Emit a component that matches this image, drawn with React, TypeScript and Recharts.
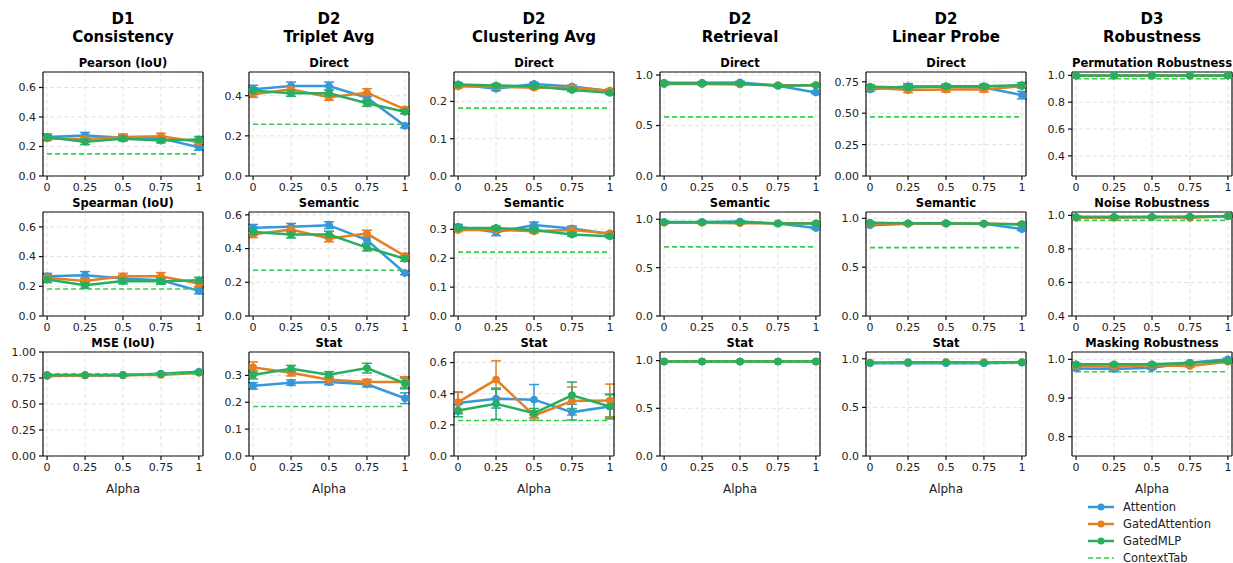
import React from 'react';
import { LineChart, Line, XAxis, YAxis, CartesianGrid, ErrorBar, ReferenceLine } from 'recharts';

const ALPHAS = [0, 0.25, 0.5, 0.75, 1];
const ALPHA_LABELS = ['0', '0.25', '0.5', '0.75', '1'];
const SERIES_NAMES = ['Attention', 'GatedAttention', 'GatedMLP'];
const BASELINE_NAME = 'ContextTab';
const COLUMN_GROUPS = ['D1', 'D2', 'D2', 'D2', 'D2', 'D3'];
const COLUMN_NAMES = ['Consistency', 'Triplet Avg', 'Clustering Avg', 'Retrieval', 'Linear Probe', 'Robustness'];

// values per panel: [Attention, GatedAttention, GatedMLP]
// D1 Consistency
const pearsonVals = [[0.265, 0.275, 0.26, 0.255, 0.195], [0.255, 0.25, 0.265, 0.27, 0.23], [0.262, 0.233, 0.253, 0.24, 0.248]];
const pearsonErr = [[0.02, 0.02, 0.015, 0.015, 0.02], [0.015, 0.02, 0.02, 0.02, 0.02], [0.015, 0.02, 0.015, 0.015, 0.02]];
const pearsonCtx = 0.15;
const spearmanVals = [[0.267, 0.274, 0.252, 0.24, 0.169], [0.258, 0.236, 0.267, 0.267, 0.218], [0.245, 0.207, 0.236, 0.234, 0.24]];
const spearmanErr = [[0.02, 0.025, 0.02, 0.02, 0.02], [0.02, 0.02, 0.02, 0.025, 0.02], [0.02, 0.02, 0.02, 0.02, 0.02]];
const spearmanCtx = 0.182;
const mseVals = [[0.77, 0.775, 0.775, 0.79, 0.81], [0.775, 0.775, 0.78, 0.78, 0.8], [0.78, 0.78, 0.78, 0.79, 0.805]];
const mseErr = [[0.005, 0.005, 0.005, 0.005, 0.005], [0.005, 0.005, 0.005, 0.005, 0.005], [0.005, 0.005, 0.005, 0.005, 0.005]];
const mseCtx = 0.79;

// D2 Triplet Avg
const tripletDirectVals = [[0.432, 0.448, 0.448, 0.39, 0.25], [0.407, 0.432, 0.392, 0.415, 0.332], [0.425, 0.412, 0.412, 0.362, 0.32]];
const tripletDirectErr = [[0.02, 0.02, 0.02, 0.02, 0.01], [0.015, 0.015, 0.015, 0.02, 0.01], [0.015, 0.015, 0.015, 0.015, 0.01]];
const tripletDirectCtx = 0.258;
const tripletSemanticVals = [[0.523, 0.529, 0.539, 0.45, 0.255], [0.485, 0.513, 0.46, 0.489, 0.356], [0.499, 0.483, 0.483, 0.406, 0.34]];
const tripletSemanticErr = [[0.02, 0.02, 0.02, 0.02, 0.01], [0.02, 0.02, 0.02, 0.02, 0.015], [0.02, 0.02, 0.02, 0.02, 0.015]];
const tripletSemanticCtx = 0.271;
const tripletStatVals = [[0.261, 0.273, 0.275, 0.267, 0.215], [0.33, 0.31, 0.284, 0.275, 0.275], [0.302, 0.325, 0.302, 0.327, 0.27]];
const tripletStatErr = [[0.012, 0.01, 0.01, 0.01, 0.02], [0.02, 0.012, 0.01, 0.01, 0.02], [0.015, 0.012, 0.012, 0.018, 0.02]];
const tripletStatCtx = 0.184;

// D2 Clustering Avg
const clusterDirectVals = [[0.2455, 0.234, 0.247, 0.24, 0.228], [0.24, 0.24, 0.237, 0.237, 0.229], [0.2455, 0.243, 0.241, 0.231, 0.223]];
const clusterDirectErr = [[0.004, 0.005, 0.004, 0.004, 0.004], [0.004, 0.004, 0.004, 0.004, 0.004], [0.004, 0.004, 0.004, 0.004, 0.004]];
const clusterDirectCtx = 0.182;
const clusterSemanticVals = [[0.309, 0.29, 0.315, 0.303, 0.284], [0.298, 0.298, 0.293, 0.298, 0.286], [0.305, 0.305, 0.298, 0.282, 0.276]];
const clusterSemanticErr = [[0.008, 0.012, 0.01, 0.008, 0.005], [0.006, 0.006, 0.006, 0.008, 0.005], [0.006, 0.006, 0.006, 0.006, 0.005]];
const clusterSemanticCtx = 0.221;
const clusterStatVals = [[0.34, 0.368, 0.362, 0.282, 0.318], [0.346, 0.491, 0.26, 0.353, 0.357], [0.292, 0.336, 0.275, 0.39, 0.318]];
const clusterStatErr = [[0.07, 0.06, 0.097, 0.05, 0.08], [0.065, 0.12, 0.03, 0.09, 0.105], [0.04, 0.1, 0.03, 0.085, 0.075]];
const clusterStatCtx = 0.228;

// D2 Retrieval
const retrievalDirectVals = [[0.924, 0.924, 0.927, 0.894, 0.828], [0.91, 0.91, 0.907, 0.9, 0.9], [0.917, 0.917, 0.917, 0.894, 0.9]];
const retrievalDirectErr = [[0.01, 0.01, 0.01, 0.01, 0.012], [0.01, 0.01, 0.01, 0.01, 0.01], [0.01, 0.01, 0.01, 0.01, 0.01]];
const retrievalDirectCtx = 0.586;
const retrievalSemanticVals = [[0.972, 0.972, 0.976, 0.955, 0.91], [0.965, 0.965, 0.96, 0.958, 0.958], [0.968, 0.968, 0.97, 0.955, 0.955]];
const retrievalSemanticErr = [[0.01, 0.01, 0.01, 0.01, 0.012], [0.01, 0.01, 0.01, 0.01, 0.01], [0.01, 0.01, 0.01, 0.01, 0.01]];
const retrievalSemanticCtx = 0.715;
const retrievalStatVals = [[0.99, 0.99, 0.99, 0.99, 0.99], [0.99, 0.99, 0.99, 0.99, 0.99], [0.99, 0.99, 0.99, 0.99, 0.99]];
const retrievalStatErr = [[0.003, 0.003, 0.003, 0.003, 0.003], [0.003, 0.003, 0.003, 0.003, 0.003], [0.003, 0.003, 0.003, 0.003, 0.003]];
const retrievalStatCtx = 0.99;

// D2 Linear Probe
const probeDirectVals = [[0.689, 0.715, 0.71, 0.705, 0.644], [0.705, 0.684, 0.689, 0.689, 0.715], [0.71, 0.705, 0.715, 0.715, 0.723]];
const probeDirectErr = [[0.015, 0.02, 0.015, 0.015, 0.03], [0.015, 0.02, 0.02, 0.02, 0.015], [0.015, 0.02, 0.015, 0.015, 0.02]];
const probeDirectCtx = 0.471;
const probeSemanticVals = [[0.93, 0.945, 0.945, 0.945, 0.89], [0.945, 0.945, 0.95, 0.945, 0.94], [0.955, 0.95, 0.95, 0.945, 0.94]];
const probeSemanticErr = [[0.01, 0.01, 0.01, 0.01, 0.015], [0.01, 0.01, 0.01, 0.01, 0.01], [0.01, 0.01, 0.01, 0.01, 0.01]];
const probeSemanticCtx = 0.7;
const probeStatVals = [[0.955, 0.955, 0.955, 0.955, 0.96], [0.96, 0.96, 0.965, 0.965, 0.965], [0.96, 0.965, 0.965, 0.96, 0.965]];
const probeStatErr = [[0.005, 0.005, 0.005, 0.005, 0.005], [0.005, 0.005, 0.005, 0.005, 0.005], [0.005, 0.005, 0.005, 0.005, 0.005]];
const probeStatCtx = 0.955;

// D3 Robustness
const permutationVals = [[0.998, 0.998, 0.998, 0.998, 0.998], [0.997, 0.997, 0.997, 0.997, 0.998], [0.999, 0.999, 0.999, 0.999, 0.999]];
const permutationErr = [[0.003, 0.003, 0.003, 0.003, 0.003], [0.003, 0.003, 0.003, 0.003, 0.003], [0.003, 0.003, 0.003, 0.003, 0.003]];
const permutationCtx = 0.975;
const noiseVals = [[0.99, 0.99, 0.99, 0.99, 0.995], [0.985, 0.985, 0.99, 0.985, 0.995], [0.99, 0.99, 0.99, 0.992, 0.995]];
const noiseErr = [[0.004, 0.004, 0.004, 0.004, 0.004], [0.004, 0.004, 0.004, 0.004, 0.004], [0.004, 0.004, 0.004, 0.004, 0.004]];
const noiseCtx = 0.97;
const maskingVals = [[0.9765, 0.975, 0.978, 0.991, 1.0], [0.983, 0.981, 0.985, 0.983, 0.994], [0.987, 0.987, 0.987, 0.991, 0.996]];
const maskingErr = [[0.003, 0.003, 0.003, 0.003, 0.003], [0.003, 0.003, 0.003, 0.003, 0.003], [0.003, 0.003, 0.003, 0.003, 0.003]];
const maskingCtx = 0.968;

const COLORS = ['#3498db', '#e67e22', '#27ae60'];
const CTX_COLOR = '#33cc4d';
const FONT = '"DejaVu Sans", sans-serif';

type Panel = {
  title: string;
  vals: number[][];
  err: number[][];
  ctx: number;
  domain: [number, number];
  ticks: number[];
  digits: number;
};

// rows of panels, left to right
const PANELS: Panel[][] = [
  [
    { title: 'Pearson (IoU)', vals: pearsonVals, err: pearsonErr, ctx: pearsonCtx, domain: [0, 0.705], ticks: [0, 0.2, 0.4, 0.6], digits: 1 },
    { title: 'Direct', vals: tripletDirectVals, err: tripletDirectErr, ctx: tripletDirectCtx, domain: [0, 0.518], ticks: [0, 0.2, 0.4], digits: 1 },
    { title: 'Direct', vals: clusterDirectVals, err: clusterDirectErr, ctx: clusterDirectCtx, domain: [0, 0.279], ticks: [0, 0.1, 0.2], digits: 1 },
    { title: 'Direct', vals: retrievalDirectVals, err: retrievalDirectErr, ctx: retrievalDirectCtx, domain: [0, 1.03], ticks: [0, 0.5, 1], digits: 1 },
    { title: 'Direct', vals: probeDirectVals, err: probeDirectErr, ctx: probeDirectCtx, domain: [0, 0.828], ticks: [0, 0.25, 0.5, 0.75], digits: 2 },
    { title: 'Permutation Robustness', vals: permutationVals, err: permutationErr, ctx: permutationCtx, domain: [0.25, 1.025], ticks: [0.4, 0.6, 0.8, 1], digits: 1 },
  ],
  [
    { title: 'Spearman (IoU)', vals: spearmanVals, err: spearmanErr, ctx: spearmanCtx, domain: [0, 0.7], ticks: [0, 0.2, 0.4, 0.6], digits: 1 },
    { title: 'Semantic', vals: tripletSemanticVals, err: tripletSemanticErr, ctx: tripletSemanticCtx, domain: [0, 0.617], ticks: [0, 0.2, 0.4, 0.6], digits: 1 },
    { title: 'Semantic', vals: clusterSemanticVals, err: clusterSemanticErr, ctx: clusterSemanticCtx, domain: [0, 0.36], ticks: [0, 0.1, 0.2, 0.3], digits: 1 },
    { title: 'Semantic', vals: retrievalSemanticVals, err: retrievalSemanticErr, ctx: retrievalSemanticCtx, domain: [0, 1.075], ticks: [0, 0.5, 1], digits: 1 },
    { title: 'Semantic', vals: probeSemanticVals, err: probeSemanticErr, ctx: probeSemanticCtx, domain: [0, 1.065], ticks: [0, 0.5, 1], digits: 1 },
    { title: 'Noise Robustness', vals: noiseVals, err: noiseErr, ctx: noiseCtx, domain: [0.4, 1.02], ticks: [0.4, 0.6, 0.8, 1], digits: 1 },
  ],
  [
    { title: 'MSE (IoU)', vals: mseVals, err: mseErr, ctx: mseCtx, domain: [0, 1.0], ticks: [0, 0.25, 0.5, 0.75, 1], digits: 2 },
    { title: 'Stat', vals: tripletStatVals, err: tripletStatErr, ctx: tripletStatCtx, domain: [0, 0.387], ticks: [0, 0.1, 0.2, 0.3], digits: 1 },
    { title: 'Stat', vals: clusterStatVals, err: clusterStatErr, ctx: clusterStatCtx, domain: [0, 0.668], ticks: [0, 0.2, 0.4, 0.6], digits: 1 },
    { title: 'Stat', vals: retrievalStatVals, err: retrievalStatErr, ctx: retrievalStatCtx, domain: [0, 1.09], ticks: [0, 0.5, 1], digits: 1 },
    { title: 'Stat', vals: probeStatVals, err: probeStatErr, ctx: probeStatCtx, domain: [0, 1.07], ticks: [0, 0.5, 1], digits: 1 },
    { title: 'Masking Robustness', vals: maskingVals, err: maskingErr, ctx: maskingCtx, domain: [0.75, 1.019], ticks: [0.8, 0.9, 1], digits: 1 },
  ],
];

// layout
const COL_LEFT = [43, 249, 454, 660, 866, 1072];
const ROW_TOP = [72, 212, 352];
const PLOT_W = 160;
const PLOT_H = 104;
const Y_W = 45;
const M_TOP = 8;
const M_RIGHT = 4;
const X_H = 24;
const X_DOMAIN: [number, number] = [-0.027, 1.027];
const AXIS_STROKE = { stroke: '#111', strokeWidth: 1.2 };

const SubPlot: React.FC<{ p: Panel; left: number; top: number }> = ({ p, left, top }) => {
  const data = ALPHAS.map((a, i) => ({
    alpha: a,
    v0: p.vals[0][i], v1: p.vals[1][i], v2: p.vals[2][i],
    e0: p.err[0][i], e1: p.err[1][i], e2: p.err[2][i],
    ctx: p.ctx,
  }));
  const tickStyle = { fill: '#222', fontSize: 11, fontFamily: FONT };
  return (
    <div style={{ position: 'absolute', left: left - Y_W, top: top - M_TOP }}>
      <LineChart width={Y_W + PLOT_W + M_RIGHT} height={M_TOP + PLOT_H + X_H} data={data}
        margin={{ top: M_TOP, right: M_RIGHT, left: 0, bottom: 0 }}>
        <CartesianGrid stroke="#e2e2e2" strokeDasharray="4 3" />
        <XAxis dataKey="alpha" type="number" domain={X_DOMAIN} ticks={ALPHAS} allowDataOverflow
          tickFormatter={(v: number) => ALPHA_LABELS[ALPHAS.indexOf(v)] ?? String(v)}
          height={X_H} tick={tickStyle} tickSize={4} tickMargin={3} axisLine={AXIS_STROKE} tickLine={AXIS_STROKE} />
        <YAxis type="number" domain={p.domain} ticks={p.ticks} allowDataOverflow width={Y_W}
          tickFormatter={(v: number) => v.toFixed(p.digits)}
          tick={tickStyle} tickSize={4} tickMargin={3} axisLine={AXIS_STROKE} tickLine={AXIS_STROKE} />
        {COLORS.map((c, k) => (
          <Line key={k} dataKey={`v${k}`} name={SERIES_NAMES[k]} stroke={c} strokeWidth={2.5}
            dot={{ r: 3.5, fill: c, stroke: c, strokeWidth: 1 }} activeDot={false} isAnimationActive={false}>
            <ErrorBar dataKey={`e${k}`} direction="y" width={5} stroke={c} strokeWidth={1.5} />
          </Line>
        ))}
        <Line dataKey="ctx" name={BASELINE_NAME} stroke={CTX_COLOR} strokeWidth={1.6} strokeDasharray="5 3"
          dot={false} activeDot={false} isAnimationActive={false} />
        {/* top and right spines */}
        <ReferenceLine y={p.domain[1]} stroke="#111" strokeWidth={1.2} />
        <ReferenceLine x={X_DOMAIN[1]} stroke="#111" strokeWidth={1.2} />
      </LineChart>
    </div>
  );
};

const Legend: React.FC = () => (
  <div style={{ position: 'absolute', left: 1086, top: 498, fontFamily: FONT, fontSize: 11.5, color: '#222' }}>
    {[...SERIES_NAMES, BASELINE_NAME].map((name, k) => (
      <div key={name} style={{ display: 'flex', alignItems: 'center', height: 17 }}>
        <svg width={30} height={10} style={{ marginRight: 7 }}>
          {k < 3 ? (
            <>
              <line x1={2} y1={5} x2={28} y2={5} stroke={COLORS[k]} strokeWidth={2.5} />
              <circle cx={15} cy={5} r={3.5} fill={COLORS[k]} />
            </>
          ) : (
            <line x1={2} y1={5} x2={28} y2={5} stroke={CTX_COLOR} strokeWidth={1.6} strokeDasharray="5 3" />
          )}
        </svg>
        <span>{name}</span>
      </div>
    ))}
  </div>
);

export default function App() {
  return (
    <div style={{ position: 'absolute', left: 0, top: 0, width: 1233, height: 563, background: '#fff', fontFamily: FONT }}>
      {COLUMN_NAMES.map((name, c) => (
        <div key={c} style={{
          position: 'absolute', left: COL_LEFT[c] + PLOT_W / 2 - 100, top: 10, width: 200,
          textAlign: 'center', fontWeight: 'bold', fontSize: 15, lineHeight: '18px', color: '#000',
        }}>
          {COLUMN_GROUPS[c]}<br />{name}
        </div>
      ))}
      {PANELS.map((row, r) => row.map((p, c) => (
        <React.Fragment key={`${r}-${c}`}>
          <div style={{
            position: 'absolute', left: COL_LEFT[c] + PLOT_W / 2 - 100, top: ROW_TOP[r] - 16, width: 200,
            textAlign: 'center', fontWeight: 'bold', fontSize: 11.5, lineHeight: '14px', color: '#000',
          }}>{p.title}</div>
          <SubPlot p={p} left={COL_LEFT[c]} top={ROW_TOP[r]} />
        </React.Fragment>
      )))}
      {COL_LEFT.map((l, c) => (
        <div key={`xl${c}`} style={{
          position: 'absolute', left: l + PLOT_W / 2 - 50, top: ROW_TOP[2] + PLOT_H + 25, width: 100,
          textAlign: 'center', fontSize: 12, lineHeight: '16px', color: '#222',
        }}>Alpha</div>
      ))}
      <Legend />
    </div>
  );
}
